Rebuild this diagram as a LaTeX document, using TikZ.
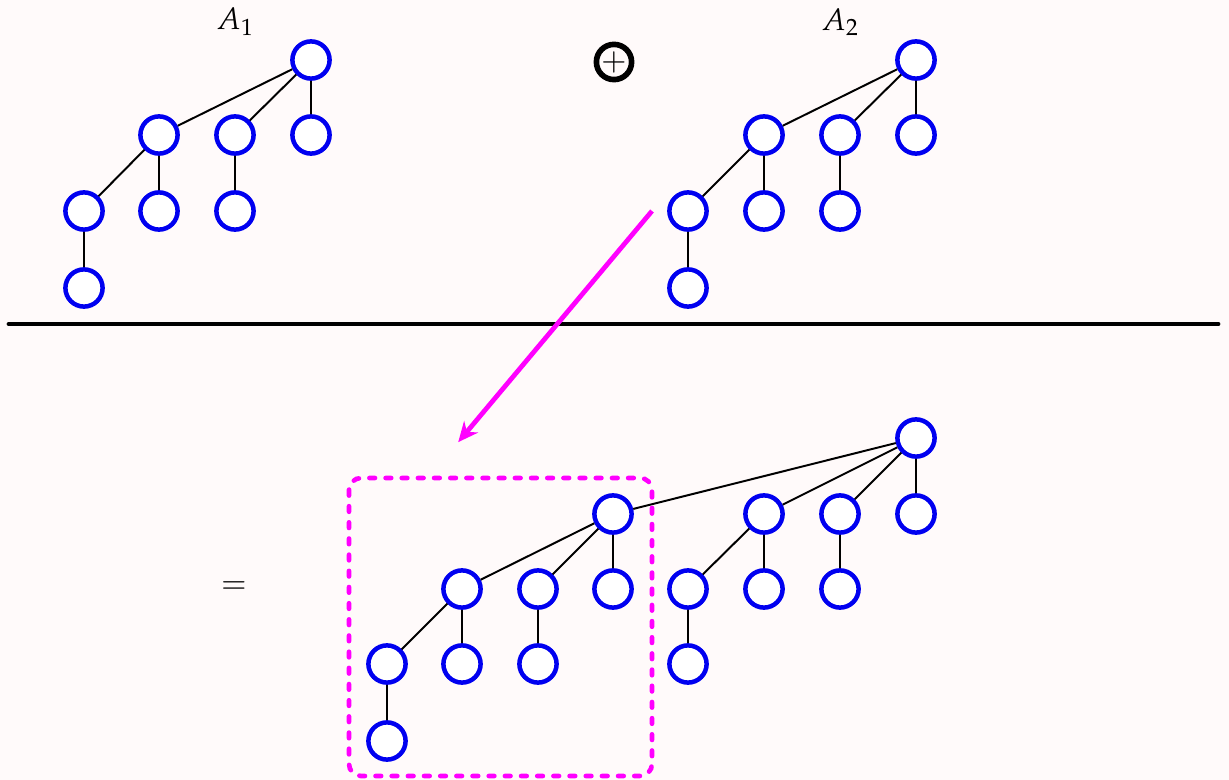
\documentclass[tikz,border=0pt]{standalone}
\usepackage{mathpazo}
\usetikzlibrary{arrows.meta}
\definecolor{bgpink}{RGB}{255,250,250}
\definecolor{vert}{RGB}{0,0,240}
\definecolor{hot}{RGB}{255,0,255}
\begin{document}
\begin{tikzpicture}[x=0.025cm, y=-0.025cm,
    vtx/.style={circle, draw=vert, fill=white, line width=3.2pt, minimum size=0.93cm, inner sep=0pt},
    edge/.style={line width=1.4pt},
    lbl/.style={font=\fontsize{22}{26}\selectfont},
    move/.style={-{Stealth[length=0.5cm, width=0.45cm]}, line width=3.4pt, hot, shorten >=-2pt},
    cut/.style={line width=3.3pt, hot, dash pattern=on 4pt off 7.5pt, line cap=round, rounded corners=0.3cm}
  ]
    \fill[bgpink] (0,0) rectangle (1229,780);
    \useasboundingbox (0,0) rectangle (1229,780);
    % first tree
    \node[vtx] (pr) at (311,60) {};
    \node[vtx] (pa) at (159,135) {}; \node[vtx] (pb) at (235,135) {}; \node[vtx] (pc) at (311,135) {};
    \node[vtx] (pd) at (84,211) {};  \node[vtx] (pe) at (159,211) {}; \node[vtx] (pf) at (235,211) {};
    \node[vtx] (pg) at (84,288) {};
    \draw[edge] (pr) -- (pa) (pr) -- (pb) (pr) -- (pc) (pa) -- (pd) (pa) -- (pe) (pb) -- (pf) (pd) -- (pg);
    \node[lbl] (pl) at (235,22) {$A_1$};
    % second tree
    \node[vtx] (qr) at (916,60) {};
    \node[vtx] (qa) at (764,135) {}; \node[vtx] (qb) at (840,135) {}; \node[vtx] (qc) at (916,135) {};
    \node[vtx] (qd) at (688,211) {}; \node[vtx] (qe) at (764,211) {}; \node[vtx] (qf) at (840,211) {};
    \node[vtx] (qg) at (688,288) {};
    \draw[edge] (qr) -- (qa) (qr) -- (qb) (qr) -- (qc) (qa) -- (qd) (qa) -- (qe) (qb) -- (qf) (qd) -- (qg);
    \node[lbl] (ql) at (840,22) {$A_2$};
    \node[circle, draw, line width=4pt, minimum size=0.88cm, inner sep=0pt, font=\fontsize{22}{26}\selectfont] (plus) at (614,62) {$+$};
    % rule
    \coordinate (ruleL) at (9,324);
    \coordinate (ruleR) at (1218,324);
    \draw[line width=3.5pt, line cap=round] (ruleL) -- (ruleR);
    % result
    \node[vtx] (sr) at (916,438) {};
    \node[vtx] (sa) at (613,514) {}; \node[vtx] (sb) at (764,514) {}; \node[vtx] (sc) at (840,514) {}; \node[vtx] (sd) at (916,514) {};
    \node[vtx] (se) at (462,589) {}; \node[vtx] (sf) at (538,589) {}; \node[vtx] (sg) at (613,589) {};
    \node[vtx] (sh) at (688,589) {}; \node[vtx] (si) at (764,589) {}; \node[vtx] (sj) at (840,589) {};
    \node[vtx] (sk) at (387,664) {}; \node[vtx] (sl) at (462,664) {}; \node[vtx] (sm) at (538,664) {};
    \node[vtx] (sn) at (688,664) {};
    \node[vtx] (so) at (387,741) {};
    \draw[edge] (sr) -- (sa) (sr) -- (sb) (sr) -- (sc) (sr) -- (sd)
                (sa) -- (se) (sa) -- (sf) (sa) -- (sg) (se) -- (sk) (se) -- (sl) (sf) -- (sm) (sk) -- (so)
                (sb) -- (sh) (sb) -- (si) (sc) -- (sj) (sh) -- (sn);
    \node[lbl] (eq) at (234,588) {$=$};
    \draw[cut] (349,478) rectangle (652,776);
    % graft arrow
    \coordinate (mvS) at (652,211);
    \coordinate (mvE) at (460,440);
    \draw[move] (mvS) -- (mvE);
  \end{tikzpicture}
\end{document}
